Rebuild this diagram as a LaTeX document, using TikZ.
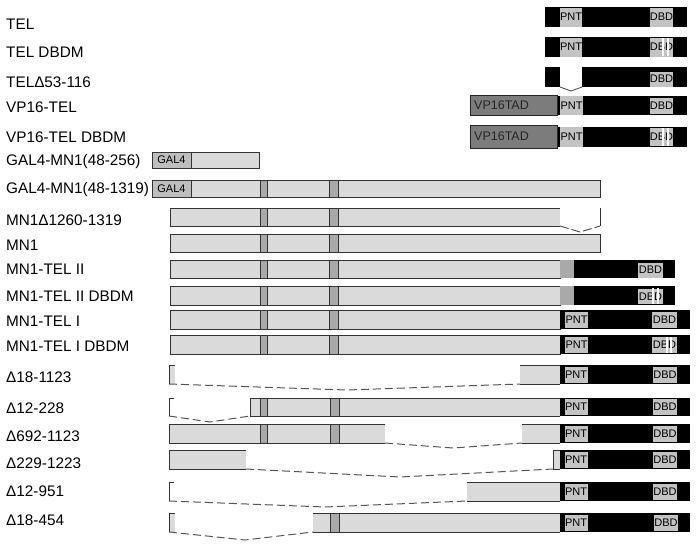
\documentclass[tikz,border=0pt]{standalone}
\usepackage{fontspec}
\setmainfont{Liberation Sans}
\definecolor{barg}{HTML}{DADADA}
\definecolor{markg}{HTML}{A9A9A9}
\definecolor{galg}{HTML}{BEBEBE}
\definecolor{vpg}{HTML}{7C7C7C}
\definecolor{domg}{HTML}{C3C3C3}
\definecolor{edgec}{HTML}{333333}
\definecolor{dashg}{HTML}{555555}
\begin{document}
\begin{tikzpicture}[x=1pt,y=-1pt,
  lbl/.style={anchor=base west,inner sep=0pt,font=\fontsize{15.3}{18}\selectfont},
  dombox/.style={fill=domg,inner sep=0pt,font=\fontsize{11}{12}\selectfont},
  galbox/.style={fill=galg,draw=edgec,line width=0.9pt,inner sep=0pt,font=\fontsize{11}{12}\selectfont},
  vpbox/.style={fill=vpg,draw=black!85,line width=1pt},
  vptext/.style={anchor=west,inner sep=0pt,text=black!85,font=\fontsize{12.5}{14}\selectfont},
  edgeline/.style={draw=edgec,line width=0.9pt},
  greyfill/.style={fill=barg},
  markbox/.style={fill=markg,draw=edgec,line width=0.9pt},
  dashline/.style={draw=dashg,line width=1pt,dash pattern=on 8pt off 4pt},
  stripe/.style={draw=white,line width=1.4pt}
]
\useasboundingbox (0,0) rectangle (696,546);

% ---------- labels ----------
\node[lbl] (l1) at (6,29.5) {TEL};
\node[lbl] (l2) at (6,57) {TEL DBDM};
\node[lbl] (l3) at (6,87) {TELΔ53-116};
\node[lbl] (l4) at (6,112.3) {VP16-TEL};
\node[lbl] (l5) at (6,142.3) {VP16-TEL DBDM};
\node[lbl] (l6) at (6,165) {GAL4-MN1(48-256)};
\node[lbl] (l7) at (6,193.5) {GAL4-MN1(48-1319)};
\node[lbl] (l8) at (6,225) {MN1Δ1260-1319};
\node[lbl] (l9) at (6,250.5) {MN1};
\node[lbl] (l10) at (6,274.5) {MN1-TEL II};
\node[lbl] (l11) at (6,301.7) {MN1-TEL II DBDM};
\node[lbl] (l12) at (6,326.7) {MN1-TEL I};
\node[lbl] (l13) at (6,351.7) {MN1-TEL I DBDM};
\node[lbl] (l14) at (6,382.7) {Δ18-1123};
\node[lbl] (l15) at (6,413.3) {Δ12-228};
\node[lbl] (l16) at (6,441) {Δ692-1123};
\node[lbl] (l17) at (6,468.3) {Δ229-1223};
\node[lbl] (l18) at (6,496.7) {Δ12-951};
\node[lbl] (l19) at (6,525) {Δ18-454};

% ---------- TEL ----------
\fill (545,7) rectangle (687,27);
\node[dombox,minimum width=22pt,minimum height=19pt] (p1) at (571,17) {PNT};
\node[dombox,minimum width=23pt,minimum height=19pt] (d1) at (661.5,17) {DBD};

% TEL DBDM
\fill (545,37) rectangle (687,57);
\node[dombox,minimum width=22pt,minimum height=19pt] (p2) at (571,47) {PNT};
\node[dombox,minimum width=23pt,minimum height=19pt] (d2) at (661.5,47) {DBD};
\draw[stripe] (663,38) -- (663,56);
\draw[stripe] (668,38) -- (668,56);

% TEL delta 53-116
\fill (545,67) rectangle (560,87);
\fill (582,67) rectangle (687,87);
\draw[dashg,line width=0.9pt] (560,87) -- (571,91) -- (582,87);
\node[dombox,minimum width=23pt,minimum height=15pt] (d3) at (661.5,79) {DBD};

% VP16-TEL
\fill (557,96) rectangle (687,115);
\draw[vpbox] (470,95) rectangle (557,115);
\node[vptext] (v4) at (474,105.5) {VP16TAD};
\node[dombox,minimum width=23pt,minimum height=19pt] (p4) at (571.5,105.5) {PNT};
\node[dombox,minimum width=23pt,minimum height=16pt] (d4) at (661.5,105.5) {DBD};

% VP16-TEL DBDM
\fill (557,127) rectangle (687,147);
\draw[vpbox] (470,125) rectangle (557,148);
\node[vptext] (v5) at (474,136.5) {VP16TAD};
\node[dombox,minimum width=23pt,minimum height=20pt] (p5) at (571.5,137) {PNT};
\node[dombox,minimum width=23pt,minimum height=18pt] (d5) at (661.5,137) {DBD};
\draw[stripe] (663,128) -- (663,146);
\draw[stripe] (668,128) -- (668,146);

% ---------- GAL4-MN1(48-256) ----------
\draw[greyfill,edgeline] (152,152) rectangle (259,168);
\node[galbox,minimum width=39pt,minimum height=16pt] (g6) at (171.5,160) {GAL4};

% GAL4-MN1(48-1319)
\draw[greyfill,edgeline] (152,180) rectangle (600,197);
\node[galbox,minimum width=39pt,minimum height=17pt] (g7) at (171.5,188.5) {GAL4};
\draw[markbox] (260,180) rectangle (267,197);
\draw[markbox] (329,180) rectangle (338,197);

% MN1 delta 1260-1319
\fill[barg] (170,208) rectangle (560,226);
\draw[edgeline] (560,208) -- (170,208) -- (170,226) -- (560,226);
\draw[markbox] (260,208) rectangle (267,226);
\draw[markbox] (329,208) rectangle (338,226);
\draw[edgeline] (600,208) -- (600,226);
\draw[dashline,dash pattern=on 9pt off 3pt] (560,226) -- (580,232) -- (600,226);

% MN1
\draw[greyfill,edgeline] (170,234) rectangle (600,252);
\draw[markbox] (260,234) rectangle (267,252);
\draw[markbox] (329,234) rectangle (338,252);

% MN1-TEL II
\draw[greyfill,edgeline] (170,260) rectangle (560,278);
\draw[markbox] (260,260) rectangle (267,278);
\draw[markbox] (329,260) rectangle (338,278);
\fill (574,260) rectangle (675,278);
\fill[markg] (560,260) rectangle (574,278);
\node[dombox,minimum width=25pt,minimum height=15pt] (d10) at (650.5,270) {DBD};

% MN1-TEL II DBDM
\draw[greyfill,edgeline] (170,286) rectangle (560,305);
\draw[markbox] (260,286) rectangle (267,305);
\draw[markbox] (329,286) rectangle (338,305);
\fill (574,286) rectangle (675,305);
\fill[markg] (560,286) rectangle (574,305);
\node[dombox,minimum width=25pt,minimum height=15pt] (d11) at (650.5,296.5) {DBD};
\draw[stripe] (653,288) -- (653,304);
\draw[stripe] (658,288) -- (658,304);

% MN1-TEL I
\draw[greyfill,edgeline] (170,310) rectangle (560,329);
\draw[markbox] (260,310) rectangle (267,329);
\draw[markbox] (329,310) rectangle (338,329);
\fill (560,310) rectangle (690,329);
\node[dombox,minimum width=23pt,minimum height=16pt] (p12) at (576.5,320) {PNT};
\node[dombox,minimum width=25pt,minimum height=16pt] (d12) at (664.5,320) {DBD};

% MN1-TEL I DBDM
\draw[greyfill,edgeline] (170,335) rectangle (560,354);
\draw[markbox] (260,335) rectangle (267,354);
\draw[markbox] (329,335) rectangle (338,354);
\fill (560,335) rectangle (690,354);
\node[dombox,minimum width=23pt,minimum height=16pt] (p13) at (576.5,345) {PNT};
\node[dombox,minimum width=25pt,minimum height=16pt] (d13) at (664.5,345) {DBD};
\draw[stripe] (667,337) -- (667,353);
\draw[stripe] (671,337) -- (671,353);

% ---------- delta 18-1123 ----------
\fill[barg] (169,365) rectangle (175,384);
\draw[edgeline] (175,365) -- (169,365) -- (169,384);
\draw[dashline] (169,384) -- (347,390) -- (520,384);
\fill[barg] (520,365) rectangle (560,384);
\draw[edgeline] (520,365) -- (560,365);
\draw[edgeline] (520,384) -- (560,384);
\fill (560,365) rectangle (690,384);
\node[dombox,minimum width=23pt,minimum height=16pt] (p14) at (576,375) {PNT};
\node[dombox,minimum width=24pt,minimum height=16pt] (d14) at (665,375) {DBD};

% delta 12-228
\draw[edgeline] (174,398) -- (169,398) -- (169,416);
\draw[dashline] (169,416) -- (210,422) -- (250,416);
\fill[barg] (250,398) rectangle (560,416);
\draw[edgeline] (560,398) -- (250,398) -- (250,416) -- (560,416);
\draw[markbox] (260,398) rectangle (267,416);
\draw[markbox] (330,398) rectangle (339,416);
\fill (560,398) rectangle (690,416);
\node[dombox,minimum width=23pt,minimum height=16pt] (p15) at (576,407) {PNT};
\node[dombox,minimum width=24pt,minimum height=16pt] (d15) at (665,407) {DBD};

% delta 692-1123
\fill[barg] (169,424) rectangle (385,443);
\draw[edgeline] (385,424) -- (169,424) -- (169,443) -- (385,443);
\draw[markbox] (260,424) rectangle (267,443);
\draw[markbox] (330,424) rectangle (339,443);
\draw[dashline] (385,443) -- (453,448) -- (522,443);
\fill[barg] (522,424) rectangle (560,443);
\draw[edgeline] (522,424) -- (560,424);
\draw[edgeline] (522,443) -- (560,443);
\fill (560,424) rectangle (690,443);
\node[dombox,minimum width=23pt,minimum height=16pt] (p16) at (576,434) {PNT};
\node[dombox,minimum width=24pt,minimum height=16pt] (d16) at (665,434) {DBD};

% delta 229-1223
\fill[barg] (169,450) rectangle (246,469);
\draw[edgeline] (246,450) -- (169,450) -- (169,469) -- (246,469);
\draw[dashline] (246,469) -- (400,477) -- (553,469);
\fill[barg] (553,450) rectangle (560,469);
\draw[edgeline] (560,450) -- (553,450) -- (553,469) -- (560,469);
\fill (560,450) rectangle (690,469);
\node[dombox,minimum width=23pt,minimum height=16pt] (p17) at (576,460) {PNT};
\node[dombox,minimum width=24pt,minimum height=16pt] (d17) at (665,460) {DBD};

% delta 12-951
\draw[edgeline] (174,482) -- (169,482) -- (169,501);
\draw[dashline] (169,501) -- (325,507) -- (467,501);
\fill[barg] (467,482) rectangle (560,501);
\draw[edgeline] (467,482) -- (560,482);
\draw[edgeline] (467,501) -- (560,501);
\fill (560,482) rectangle (690,501);
\node[dombox,minimum width=23pt,minimum height=16pt] (p18) at (576,491.5) {PNT};
\node[dombox,minimum width=24pt,minimum height=16pt] (d18) at (665,491.5) {DBD};

% delta 18-454
\fill[barg] (169,513) rectangle (175,532);
\draw[edgeline] (175,513) -- (169,513) -- (169,532);
\draw[dashline] (169,532) -- (245,540) -- (313,532);
\fill[barg] (313,513) rectangle (560,532);
\draw[edgeline] (313,513) -- (560,513);
\draw[edgeline] (313,532) -- (560,532);
\draw[markbox] (330,513) rectangle (339,532);
\fill (560,513) rectangle (690,532);
\node[dombox,minimum width=23pt,minimum height=16pt] (p19) at (576,523) {PNT};
\node[dombox,minimum width=24pt,minimum height=16pt] (d19) at (666,523) {DBD};
\end{tikzpicture}
\end{document}
